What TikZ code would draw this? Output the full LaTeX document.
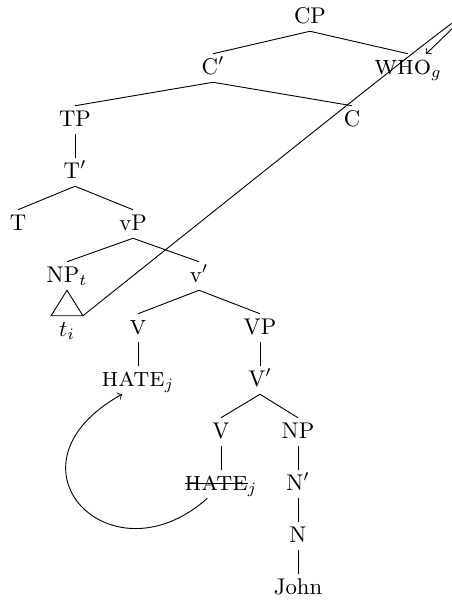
\documentclass[tikz,border=0pt]{standalone}
\usepackage{amsmath,amssymb}
\usepackage{tikz}
\usetikzlibrary{calc}
\tikzset{
  cat/.style={inner sep=2.3pt,text height=1.5ex,text depth=.25ex},
}
\newlength{\strikewd}
\newcommand{\struck}[1]{\settowidth{\strikewd}{#1}\rlap{\rule[0.6ex]{\strikewd}{0.4pt}}#1}
\newcommand{\smc}[1]{{\fontsize{12}{14}\selectfont\textsc{#1}}}

\begin{document}
\begin{tikzpicture}[
  x=0.44pt,y=-0.44pt,
  every node/.style={cat}
]
\useasboundingbox (0,0) rectangle (451,603);

\node (cp) at (310,17) {CP};
\node (cbar) at (213,68) {C$'$};
\node (who) at (408,68) {\smc{who}$_g$};
\node (tp) at (75,120) {TP};
\node (c) at (352,120) {C};
\node (tbar) at (75,172) {T$'$};
\node (t) at (18,224) {T};
\node (lvp) at (133,224) {vP};
\node (npt) at (67,276) {NP$_t$};
\node (lvbar) at (199,276) {v$'$};
\node (ti) at (67,330) {$t_i$};
\node (lv) at (138,328) {\smc{v}};
\node (bigvp) at (260,328) {VP};
\node (hate) at (138,380) {\smc{hate}$_j$};
\node (vbar) at (260,380) {V$'$};
\node (verb) at (221,432) {V};
\node (np) at (298,432) {NP};
\node (hatecopy) at (221,484) {\struck{\smc{hate}}$_j$};
\node (nbar) at (298,484) {N$'$};
\node (n) at (298,536) {N};
\node (john) at (298,588) {John};

% branches
\foreach \a/\b in {cp/cbar,cp/who,cbar/tp,cbar/c,tp/tbar,tbar/t,tbar/lvp,
  lvp/npt,lvp/lvbar,lvbar/lv,lvbar/bigvp,lv/hate,bigvp/vbar,vbar/verb,
  vbar/np,verb/hatecopy,np/nbar,nbar/n,n/john}
  \draw (\a.south) -- (\b.north);

% triangle
\coordinate (tri) at ([xshift=7pt]ti.north);
\draw (npt.south) -- ([xshift=-7pt]ti.north) -- (tri) -- cycle;

% movement
\draw[->] (tri) .. controls (501,-18) .. ([xshift=8pt]who.north);
\draw[->] ([xshift=-6pt]hatecopy.south) .. controls (110,585) and (-5,465) .. ([xshift=-7pt]hate.south);

\end{tikzpicture}
\end{document}
